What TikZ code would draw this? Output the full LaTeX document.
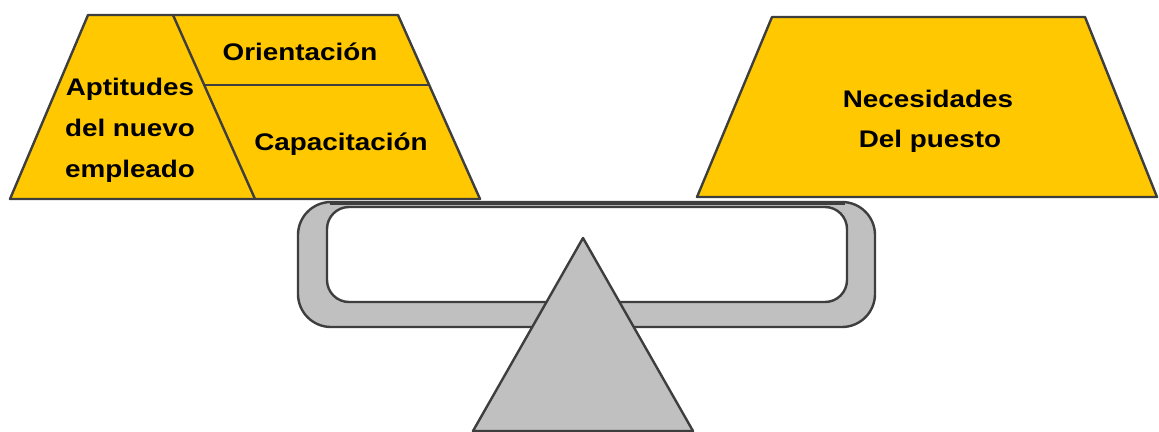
\documentclass[tikz,border=0pt]{standalone}
\usepackage{fontspec}
\setmainfont[FakeStretch=1.16]{Liberation Sans}
\definecolor{gold}{HTML}{FFC800}
\definecolor{beamgray}{HTML}{C0C0C0}
\definecolor{edge}{HTML}{3E3E3E}
\tikzset{
  pan/.style={fill=gold, draw=edge, line width=2.4pt, line join=round},
  frame/.style={fill=beamgray, draw=edge, line width=2.4pt},
  hole/.style={fill=white, draw=edge, line width=2.4pt},
  divider/.style={draw=edge, line width=2.4pt},
  lbl/.style={font=\fontsize{24}{28}\selectfont\bfseries, anchor=base, inner sep=0pt, text=black}
}
\begin{document}
\begin{tikzpicture}[x=1pt, y=-1pt]
\useasboundingbox (0,0) rectangle (1159,431);
% beam
\draw[frame, rounded corners=33pt] (298,202) rectangle (875,327);
\draw[hole, rounded corners=22pt] (327,207) rectangle (847,302);
\draw[divider, line width=3.5pt] (330,203.5) -- (845,203.5);
% fulcrum
\draw[frame, line join=round] (583,238) -- (693,431) -- (473,431) -- cycle;
% left pan
\draw[pan] (88,15) -- (398,15) -- (480,199) -- (10,199) -- cycle;
\coordinate (d1) at (173,15);
\coordinate (d2) at (255,199);
\coordinate (h1) at (204,85);
\coordinate (h2) at (429,85);
\draw[divider] (d1) -- (d2);
\draw[divider] (h1) -- (h2);
% right pan
\draw[pan] (772,17) -- (1085,17) -- (1157,197) -- (697,197) -- cycle;
% labels
\node[lbl] (ori) at (300,60) {Orientación};
\node[lbl] (cap) at (341,150) {Capacitación};
\node[lbl] (apt1) at (130,95) {Aptitudes};
\node[lbl] (apt2) at (130,136) {del nuevo};
\node[lbl] (apt3) at (130,177) {empleado};
\node[lbl] (nec1) at (928,107) {Necesidades};
\node[lbl] (nec2) at (930,147) {Del puesto};
\end{tikzpicture}
\end{document}
